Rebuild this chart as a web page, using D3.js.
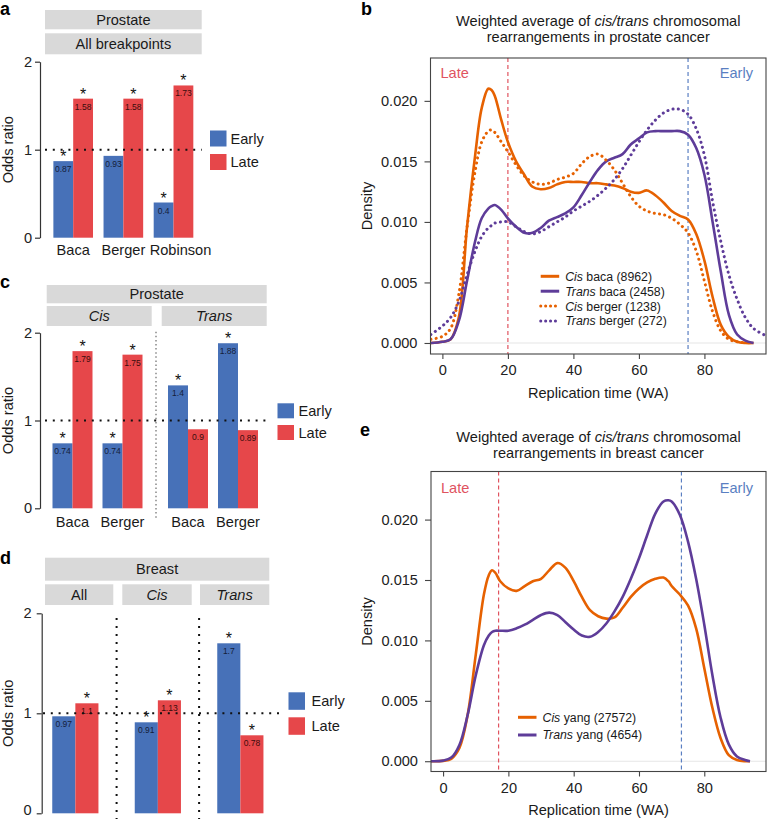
<!DOCTYPE html>
<html><head><meta charset="utf-8">
<script src="https://cdn.jsdelivr.net/npm/d3@7"></script>
<style>body{margin:0;background:#fff}svg{display:block}</style>
</head><body><script>
// ================= DATA =================
const series = ['Early', 'Late'];
const oddsTicks = [0, 1, 2];

// panel a
const aStrips = ['Prostate', 'All breakpoints'];
const aCats = ['Baca', 'Berger', 'Robinson'];
const aEarly = [0.87, 0.93, 0.4];
const aLate = [1.58, 1.58, 1.73];
const aEarlySig = [1, 0, 1];
const aLateSig = [1, 1, 1];

// panel c
const cTitle = 'Prostate';
const cFacets = ['Cis', 'Trans'];
const cCats = ['Baca', 'Berger'];
const cEarly = [[0.74, 0.74], [1.4, 1.88]];
const cLate = [[1.79, 1.75], [0.9, 0.89]];
const cEarlySig = [[1, 1], [1, 1]];
const cLateSig = [[1, 1], [0, 0]];

// panel d
const dTitle = 'Breast';
const dGroups = ['All', 'Cis', 'Trans'];
const dGroupItalic = [false, true, true];
const dEarly = [0.97, 0.91, 1.7];
const dLate = [1.1, 1.13, 0.78];
const dEarlySig = [0, 1, 1];
const dLateSig = [1, 1, 1];

// density panels
const densTicksX = [0, 20, 40, 60, 80];
const densTicksY = [0, 0.005, 0.01, 0.015, 0.02];

// panel b (prostate)
const bX = [-3.5, 0, 2.5, 5, 7.5, 10, 12, 14, 15, 16, 18, 20, 22.5, 25, 27.5, 30, 32.5, 35, 37.5, 40,
  42.5, 45, 47.5, 50, 52.5, 55, 57.5, 60, 62.5, 65, 67.5, 70, 72.5, 75, 77.5, 80, 82.5, 85, 87.5, 90, 92.5, 95, 98.8];
const bCisBaca = [0, 0.0001, 0.0003, 0.0021, 0.0095, 0.0155, 0.0194, 0.0210, 0.0209, 0.0204, 0.0184, 0.0166,
  0.0150, 0.0139, 0.0129, 0.0127, 0.0128, 0.0131, 0.0133, 0.0133, 0.0133, 0.0132, 0.0132, 0.0131, 0.0130,
  0.0128, 0.0125, 0.0124, 0.0126, 0.0122, 0.0116, 0.0109, 0.0105, 0.0102, 0.0090, 0.0068, 0.0038, 0.0015,
  0.0005, 0.0001, 0, 0, null];
const bTransBaca = [0, 0.0001, 0.0003, 0.0018, 0.0051, 0.0084, 0.0103, 0.0111, 0.0113, 0.0114, 0.0110, 0.0103,
  0.0096, 0.0091, 0.0091, 0.0095, 0.0101, 0.0104, 0.0107, 0.0112, 0.0122, 0.0133, 0.0143, 0.0150, 0.0153,
  0.0156, 0.0164, 0.0169, 0.0174, 0.0175, 0.0175, 0.0175, 0.0175, 0.0172, 0.0161, 0.0139, 0.0100, 0.0059,
  0.0023, 0.0007, 0.0002, 0, null];
const bCisBerger = [0.0003, 0.00055, 0.0012, 0.0040, 0.0095, 0.0142, 0.0166, 0.0175, 0.0176, 0.0174, 0.0166,
  0.0158, 0.0147, 0.0138, 0.0133, 0.0131, 0.0132, 0.0135, 0.0137, 0.0140, 0.0148, 0.0154, 0.0156, 0.0151,
  0.0143, 0.0132, 0.0121, 0.0113, 0.0109, 0.0107, 0.0106, 0.0103, 0.0098, 0.0091, 0.0076, 0.0051, 0.0026,
  0.0010, 0.0003, 0.0001, 0, null, null];
const bTransBerger = [0.0007, 0.0014, 0.0021, 0.0034, 0.0056, 0.0076, 0.0088, 0.0095, 0.0097, 0.0099, 0.0100,
  0.0100, 0.0096, 0.0092, 0.0090, 0.0092, 0.0096, 0.0100, 0.0104, 0.0109, 0.0113, 0.0117, 0.0122, 0.0128,
  0.0135, 0.0144, 0.0155, 0.0166, 0.0176, 0.0184, 0.0190, 0.0193, 0.0193, 0.0189, 0.0177, 0.0155, 0.0117,
  0.0084, 0.0056, 0.0036, 0.0021, 0.0012, 0.0006];
const bLegend = [['Cis', ' baca (8962)'], ['Trans', ' baca (2458)'], ['Cis', ' berger (1238)'], ['Trans', ' berger (272)']];
const bCuts = [20, 75];

// panel e (breast)
const eX = [-3.8, 0, 2.5, 5, 7.5, 10, 12.5, 14, 15, 16, 17.5, 20, 22.5, 25, 27.5, 30, 32.5, 35, 37.5, 40,
  42.5, 45, 47.5, 50, 52.5, 55, 57.5, 60, 62.5, 65, 67.5, 69, 70, 72.5, 75, 77.5, 80, 82.5, 85, 87.5, 90, 92.5, 94];
const eCisYang = [0, 0.00003, 0.0002, 0.0011, 0.0038, 0.0088, 0.0138, 0.0154, 0.0158, 0.0156, 0.0149, 0.0143,
  0.0141, 0.0145, 0.0149, 0.0151, 0.0158, 0.0164, 0.0160, 0.0149, 0.0136, 0.0125, 0.0120, 0.0118, 0.0119,
  0.0127, 0.0136, 0.0143, 0.0148, 0.0151, 0.0152, 0.0149, 0.0145, 0.0138, 0.0129, 0.0110, 0.0077, 0.0044,
  0.0019, 0.0005, 0.0001, 0, 0];
const eTransYang = [0, 0.00005, 0.0003, 0.00135, 0.0038, 0.0071, 0.0096, 0.0104, 0.0107, 0.0108, 0.0108, 0.0108,
  0.0110, 0.0113, 0.0117, 0.0121, 0.0123, 0.0121, 0.0115, 0.0109, 0.0104, 0.0103, 0.0107, 0.0114, 0.0124,
  0.0136, 0.0151, 0.0168, 0.0187, 0.0205, 0.0215, 0.0216, 0.0215, 0.0204, 0.0182, 0.0151, 0.0113, 0.0071,
  0.0036, 0.0014, 0.0004, 0.0001, 0];
const eLegend = [['Cis', ' yang (27572)'], ['Trans', ' yang (4654)']];
const eCuts = [17, 73];

// ================= STYLE =================
const FONT = '"Liberation Sans", Arial, Helvetica, sans-serif';
const FS = 14.6;
const TXT = '#1a1a1a';
const C_EARLY = '#4771b8', C_LATE = '#e6474a';
const C_ORANGE = '#e66101', C_PURPLE = '#5e3c99';
const C_CUT_LATE = '#e0535f', C_CUT_EARLY = '#5a7fc2';
const STRIP = '#d9d9d9';

const svg = d3.select('body').append('svg').attr('width', 767).attr('height', 819)
  .style('font-family', FONT);

function txt(g, x, y, s, size, opts = {}) {
  const t = g.append('text').attr('x', x).attr('y', y).text(s)
    .attr('font-size', size).attr('fill', opts.fill || TXT)
    .attr('text-anchor', opts.anchor || 'start');
  if (opts.weight) t.attr('font-weight', opts.weight);
  if (opts.italic) t.attr('font-style', 'italic');
  return t;
}

function strip(x0, x1, y0, y1, label, italic) {
  svg.append('rect').attr('x', x0).attr('y', y0).attr('width', x1 - x0).attr('height', y1 - y0).attr('fill', STRIP);
  txt(svg, (x0 + x1) / 2, (y0 + y1) / 2 + 5.2, label, FS, { anchor: 'middle', italic });
}

function yAxisOdds(y, ax, pad, labelY, dy) {
  const g = svg.append('g').attr('transform', `translate(${ax},0)`)
    .call(d3.axisLeft(y).tickValues(oddsTicks).tickSize(5).tickSizeOuter(0).tickPadding(pad).tickFormat(d3.format('d')));
  g.selectAll('path,line').attr('stroke', '#333').attr('stroke-width', 1.2);
  g.selectAll('text').attr('font-size', FS).attr('fill', '#222').attr('font-family', FONT);
  if (dy) g.selectAll('text').filter(d => d === 0).attr('dy', dy);
  svg.append('text').attr('transform', `translate(13,${labelY}) rotate(-90)`).attr('text-anchor', 'middle')
    .attr('font-size', FS).attr('fill', TXT).text('Odds ratio');
}

function bars(x, cats, early, late, eSig, lSig, y) {
  const inner = d3.scaleBand().domain(series).range([0, x.bandwidth()]);
  const rows = cats.flatMap((c, i) => [
    { c, s: 'Early', v: early[i], sig: eSig[i] },
    { c, s: 'Late', v: late[i], sig: lSig[i] }]);
  const g = svg.append('g');
  g.selectAll('rect').data(rows).join('rect')
    .attr('x', d => x(d.c) + inner(d.s)).attr('width', inner.bandwidth())
    .attr('y', d => y(d.v)).attr('height', d => y(0) - y(d.v))
    .attr('fill', d => d.s === 'Early' ? C_EARLY : C_LATE);
  g.selectAll('text.v').data(rows).join('text').attr('class', 'v')
    .attr('x', d => x(d.c) + inner(d.s) + inner.bandwidth() / 2).attr('y', d => y(d.v) + 11)
    .attr('text-anchor', 'middle').attr('font-size', 8.5).attr('fill', d => d.s === 'Early' ? '#14203a' : '#3a0d0d')
    .text(d => String(d.v));
  g.selectAll('text.s').data(rows.filter(d => d.sig)).join('text').attr('class', 's')
    .attr('x', d => x(d.c) + inner(d.s) + inner.bandwidth() / 2).attr('y', d => y(d.v) + 1)
    .attr('text-anchor', 'middle').attr('font-size', 16).attr('fill', '#111').text('*');
}

function hline(y, x0, x1) {
  svg.append('line').attr('x1', x0).attr('x2', x1).attr('y1', y(1)).attr('y2', y(1))
    .attr('stroke', '#111').attr('stroke-width', 2).attr('stroke-dasharray', '2,5.8');
}

function legendBoxes(x, ys, tx, h) {
  series.forEach((s, i) => {
    svg.append('rect').attr('x', x).attr('y', ys[i]).attr('width', 16.5).attr('height', h)
      .attr('fill', s === 'Early' ? C_EARLY : C_LATE);
    txt(svg, tx, ys[i] + h / 2 + 5.2, s, FS);
  });
}

// ================= PANEL a =================
txt(svg, 0, 15, 'a', 18, { weight: 'bold', fill: '#000' });
strip(45, 201.7, 10, 29.3, aStrips[0]);
strip(45, 201.7, 33.3, 54.3, aStrips[1]);
{
  const y = d3.scaleLinear().domain([0, 2]).range([237.7, 61.7]);
  const x = d3.scaleBand().domain(aCats).range([45, 201.7]).paddingInner(0.21).paddingOuter(0.167);
  yAxisOdds(y, 40, 3, 149.7);
  bars(x, aCats, aEarly, aLate, aEarlySig, aLateSig, y);
  hline(y, 45, 201.7);
  aCats.forEach((c, i) => txt(svg, x(c) + x.bandwidth() / 2, 255, c, FS, { anchor: 'middle' })
    .attr('dx', i === aCats.length - 1 ? 7 : 0));
  legendBoxes(210, [130.5, 154], 230.5, 16);
}

// ================= PANEL c =================
txt(svg, 0, 288, 'c', 18, { weight: 'bold', fill: '#000' });
strip(46.7, 266.7, 285, 303.3, cTitle);
const cStripX = [[46.7, 151.7], [161.7, 266.7]];
const cBarX = [[45, 150], [160.5, 265.5]];
cFacets.forEach((f, k) => strip(cStripX[k][0], cStripX[k][1], 306, 326, f, true));
{
  const y = d3.scaleLinear().domain([0, 2]).range([508.3, 332.7]);
  yAxisOdds(y, 40, 3, 420.5);
  svg.append('line').attr('x1', 156).attr('x2', 156).attr('y1', 331.7).attr('y2', 518)
    .attr('stroke', '#888').attr('stroke-width', 1.5).attr('stroke-dasharray', '1.5,2.6');
  cFacets.forEach((f, k) => {
    const x = d3.scaleBand().domain(cCats).range(cBarX[k]).paddingInner(0.2).paddingOuter(0.15);
    bars(x, cCats, cEarly[k], cLate[k], cEarlySig[k], cLateSig[k], y);
    cCats.forEach(c => txt(svg, x(c) + x.bandwidth() / 2, 526.5, c, FS, { anchor: 'middle' }));
  });
  hline(y, 45, 267);
  legendBoxes(277.5, [403.3, 425], 298.5, 15);
}

// ================= PANEL d =================
txt(svg, 0, 563.5, 'd', 18, { weight: 'bold', fill: '#000' });
strip(45, 269.3, 557.7, 580.7, dTitle);
const dStripX = [[45, 113.3], [122.3, 191.7], [200, 269.3]];
dGroups.forEach((g, k) => strip(dStripX[k][0], dStripX[k][1], 584.3, 605, g, dGroupItalic[k]));
{
  const y = d3.scaleLinear().domain([0, 2]).range([813.3, 613.3]);
  const x = d3.scaleBand().domain(dGroups).range([34.1, 281.6]).paddingInner(0.44).paddingOuter(0.22);
  yAxisOdds(y, 41.7, 5, 713.3, '0.1em');
  [dGroups[0], dGroups[1]].forEach((g, k) => {
    const xm = (x(dGroups[k]) + x.bandwidth() / 2 + x(dGroups[k + 1]) + x.bandwidth() / 2) / 2;
    svg.append('line').attr('x1', xm).attr('x2', xm).attr('y1', 618).attr('y2', 819)
      .attr('stroke', '#111').attr('stroke-width', 2).attr('stroke-dasharray', '2,6');
  });
  bars(x, dGroups, dEarly, dLate, dEarlySig, dLateSig, y);
  hline(y, 43, 279);
  legendBoxes(288.5, [692.3, 717.3], 311.5, 17.5);
}

// ================= DENSITY PANELS =================
function densityPanel(cfg) {
  const { x0, x1, y0, y1, xd, yd, id } = cfg;
  const x = d3.scaleLinear().domain(xd).range([x0, x1]);
  const y = d3.scaleLinear().domain(yd).range([y1, y0]);
  // title
  const t = svg.append('text').attr('x', (x0 + x1) / 2).attr('y', cfg.titleY).attr('text-anchor', 'middle')
    .attr('font-size', FS).attr('fill', TXT);
  t.append('tspan').text('Weighted average of ');
  t.append('tspan').attr('font-style', 'italic').text('cis/trans');
  t.append('tspan').text(' chromosomal');
  txt(svg, (x0 + x1) / 2, cfg.titleY + 16, cfg.title2, FS, { anchor: 'middle' });
  txt(svg, cfg.letterX, cfg.letterY, cfg.letter, 18, { weight: 'bold', fill: '#000' });

  svg.append('clipPath').attr('id', id).append('rect').attr('x', x0).attr('y', y0).attr('width', x1 - x0).attr('height', y1 - y0);
  const g = svg.append('g').attr('clip-path', `url(#${id})`);
  g.append('line').attr('x1', x0).attr('x2', x1).attr('y1', y(0)).attr('y2', y(0)).attr('stroke', '#e6e6e6').attr('stroke-width', 1.2);
  g.append('line').attr('x1', x(cfg.cuts[0])).attr('x2', x(cfg.cuts[0])).attr('y1', y0).attr('y2', y1)
    .attr('stroke', C_CUT_LATE).attr('stroke-width', 1.2).attr('stroke-dasharray', '4,3');
  g.append('line').attr('x1', x(cfg.cuts[1])).attr('x2', x(cfg.cuts[1])).attr('y1', y0).attr('y2', y1)
    .attr('stroke', C_CUT_EARLY).attr('stroke-width', 1.2).attr('stroke-dasharray', '4,3');
  const line = d3.line().defined(d => d[1] !== null).x(d => x(d[0])).y(d => y(d[1])).curve(d3.curveCatmullRom.alpha(0.5));
  cfg.curves.forEach(cv => {
    const p = g.append('path').attr('d', line(cfg.xs.map((v, i) => [v, cv.vals[i]])))
      .attr('fill', 'none').attr('stroke', cv.color).attr('stroke-width', 2.6);
    if (cv.dotted) p.attr('stroke-dasharray', '0.1,5.2').attr('stroke-linecap', 'round').attr('stroke-width', 3);
  });
  txt(svg, x0 + 10, cfg.lateY, 'Late', FS, { fill: C_CUT_LATE });
  txt(svg, x1 - 13, cfg.lateY, 'Early', FS, { fill: C_CUT_EARLY, anchor: 'end' });
  // legend
  cfg.legend.forEach((l, i) => {
    const ly = cfg.legY + i * cfg.legDy;
    const cv = cfg.curves[i];
    const ln = svg.append('line').attr('x1', cfg.legX).attr('x2', cfg.legX + 18.5).attr('y1', ly).attr('y2', ly)
      .attr('stroke', cv.color).attr('stroke-width', 3);
    if (cv.dotted) ln.attr('stroke-dasharray', '0.1,4.8').attr('stroke-linecap', 'round').attr('stroke-width', 3);
    const tt = svg.append('text').attr('x', cfg.legX + 24.5).attr('y', ly + 4.4).attr('font-size', 12.3).attr('fill', TXT);
    tt.append('tspan').attr('font-style', 'italic').text(l[0]);
    tt.append('tspan').text(l[1]);
  });
  // box
  svg.append('rect').attr('x', x0).attr('y', y0).attr('width', x1 - x0).attr('height', y1 - y0)
    .attr('fill', 'none').attr('stroke', '#444').attr('stroke-width', 1.1);
  // axes
  const gy = svg.append('g').attr('transform', `translate(${x0},0)`)
    .call(d3.axisLeft(y).tickValues(densTicksY).tickFormat(d3.format('.3f')).tickSize(6).tickPadding(7));
  gy.select('.domain').remove();
  const gx = svg.append('g').attr('transform', `translate(0,${y1})`)
    .call(d3.axisBottom(x).tickValues(densTicksX).tickFormat(d3.format('d')).tickSize(5).tickPadding(6));
  gx.select('.domain').remove();
  [gx, gy].forEach(a => {
    a.selectAll('line').attr('stroke', '#444').attr('stroke-width', 1.1);
    a.selectAll('text').attr('font-size', FS).attr('fill', '#222').attr('font-family', FONT);
  });
  txt(svg, (x0 + x1) / 2, cfg.xlabY, 'Replication time (WA)', FS, { anchor: 'middle' });
  svg.append('text').attr('transform', `translate(371.5,${(y0 + y1) / 2}) rotate(-90)`).attr('text-anchor', 'middle')
    .attr('font-size', FS).attr('fill', TXT).text('Density');
}

densityPanel({
  id: 'clipb', x0: 430.5, x1: 766, y0: 58, y1: 354, xd: [-3.63, 98.8], yd: [-0.00091, 0.02354],
  titleY: 26, title2: 'rearrangements in prostate cancer', letter: 'b', letterX: 361, letterY: 15,
  cuts: bCuts, xs: bX, lateY: 78, xlabY: 397.5,
  curves: [
    { vals: bCisBaca, color: C_ORANGE }, { vals: bTransBaca, color: C_PURPLE },
    { vals: bCisBerger, color: C_ORANGE, dotted: true }, { vals: bTransBerger, color: C_PURPLE, dotted: true }],
  legend: bLegend, legX: 540.7, legY: 276.3, legDy: 14.9
});

densityPanel({
  id: 'clipe', x0: 431, x1: 766, y0: 471.5, y1: 771.5, xd: [-3.7, 98.9], yd: [-0.00085, 0.02398],
  titleY: 441.5, title2: 'rearrangements in breast cancer', letter: 'e', letterX: 360, letterY: 436,
  cuts: eCuts, xs: eX, lateY: 493, xlabY: 815,
  curves: [{ vals: eCisYang, color: C_ORANGE }, { vals: eTransYang, color: C_PURPLE }],
  legend: eLegend, legX: 518, legY: 717.3, legDy: 17.7
});
</script></body></html>
